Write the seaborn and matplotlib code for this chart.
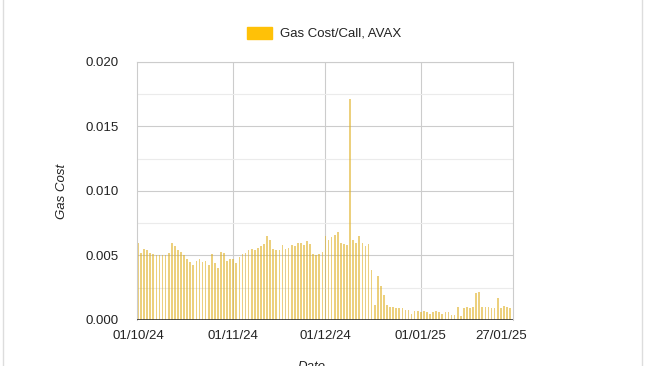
import matplotlib
matplotlib.use("Agg")
import matplotlib.pyplot as plt
import seaborn as sns
import pandas as pd
from matplotlib.patches import Rectangle

# Daily gas cost per call (AVAX)
oct_vals = [0.0060, 0.0052, 0.0055, 0.0054, 0.0052, 0.0051, 0.0050, 0.0050, 0.0050, 0.0050,
            0.0052, 0.0060, 0.0057, 0.0054, 0.0053, 0.0050, 0.0047, 0.0045, 0.0043, 0.0046,
            0.0047, 0.0045, 0.0046, 0.0043, 0.0051, 0.0044, 0.0040, 0.0053, 0.0052, 0.0046,
            0.0047]
nov_vals = [0.0047, 0.0044, 0.0049, 0.0051, 0.0052, 0.0054, 0.0055, 0.0054, 0.0056, 0.0057,
            0.0059, 0.0065, 0.0062, 0.0055, 0.0054, 0.0054, 0.0058, 0.0055, 0.0056, 0.0058,
            0.0057, 0.0060, 0.0060, 0.0058, 0.0061, 0.0059, 0.0051, 0.0050, 0.0051, 0.0053]
dec_vals = [0.0065, 0.0062, 0.0064, 0.0066, 0.0068, 0.0060, 0.0059, 0.0058, 0.0171, 0.0062,
            0.0060, 0.0065, 0.0060, 0.0057, 0.0059, 0.0039, 0.0012, 0.0034, 0.0026, 0.0019,
            0.0012, 0.0010, 0.0010, 0.0009, 0.0009, 0.0009, 0.0008, 0.0008, 0.0005, 0.0007,
            0.0007]
jan_vals = [0.0006, 0.0007, 0.0006, 0.0005, 0.0006, 0.0007, 0.0006, 0.0005, 0.0006, 0.0006,
            0.0004, 0.0004, 0.0010, 0.0003, 0.0009, 0.0010, 0.0009, 0.0010, 0.0021, 0.0022,
            0.0010, 0.0010, 0.0010, 0.0009, 0.0009, 0.0017, 0.0009, 0.0011, 0.0010, 0.0009]

dates = pd.date_range("2024-10-01", "2025-01-30", freq="D")
tick_dates = ["2024-10-01", "2024-11-01", "2024-12-01", "2025-01-01", "2025-01-27"]
tick_labels = ["01/10/24", "01/11/24", "01/12/24", "01/01/25", "27/01/25"]
grid_dates = ["2024-11-01", "2024-12-01", "2025-01-01"]
y_ticks = [0.0, 0.005, 0.010, 0.015, 0.020]

df = pd.DataFrame({"date": dates, "cost": oct_vals + nov_vals + dec_vals + jan_vals})
df["day"] = (df["date"] - dates[0]).dt.days

sns.set_style("white")
plt.rcParams["font.family"] = ["Liberation Sans", "DejaVu Sans"]

fig = plt.figure(figsize=(6.5, 3.66), dpi=100)
ax = fig.add_axes([0.2108, 0.1257, 0.578, 0.705])

sns.barplot(data=df, x="day", y="cost", color="#FFC107", width=0.55,
            native_scale=True, ax=ax, legend=False)
for p in ax.patches:
    p.set_alpha(0.6)
    p.set_linewidth(0)

def day_of(d):
    return (pd.Timestamp(d) - dates[0]).days

ax.set_xlim(-0.3, 121.9)
ax.set_ylim(0, 0.020)
ax.set_yticks(y_ticks)
ax.set_yticklabels([f"{v:.3f}" for v in y_ticks])
ax.set_yticks([0.0025, 0.0075, 0.0125, 0.0175], minor=True)
ax.set_xticks([day_of(d) for d in tick_dates])
ax.set_xticklabels(tick_labels)
ax.tick_params(axis="both", length=0, labelsize=9.5, colors="#222222")
ax.tick_params(axis="x", pad=7)
ax.tick_params(axis="y", pad=13)

ax.grid(axis="y", which="major", color="#cccccc", lw=0.8)
ax.grid(axis="y", which="minor", color="#ebebeb", lw=0.8)
ax.set_axisbelow(True)
for d in grid_dates:
    ax.axvline(day_of(d), color="#cccccc", lw=0.8, zorder=0)
for s in ["left", "right", "top"]:
    ax.spines[s].set_color("#cccccc")
    ax.spines[s].set_linewidth(0.8)
ax.spines["bottom"].set_visible(False)
ax.axhline(0, color="#333333", lw=1.2, zorder=5)

ax.set_xlabel("")
ax.set_ylabel("Gas Cost", fontsize=9.5, style="italic", color="#222222", labelpad=13)

# legend at the top
fig.patches.append(Rectangle((247 / 650, 1 - 39 / 366), 25 / 650, 12 / 366,
                             transform=fig.transFigure, color="#FFC107", zorder=3))
fig.text(280 / 650, 1 - 33 / 366, "Gas Cost/Call, AVAX", fontsize=9.5,
         color="#222222", va="center", ha="left")
# x axis title, cut off at the bottom edge as in the original
fig.text(312 / 650, 1 - 361 / 366, "Date", fontsize=9.5, style="italic",
         color="#222222", va="top", ha="center")
# card border
fig.patches.append(Rectangle((3 / 650, -0.1), 639 / 650, 1.2,
                             transform=fig.transFigure, fill=False,
                             edgecolor="#dddddd", lw=1))

plt.savefig("out.png", dpi=100)
